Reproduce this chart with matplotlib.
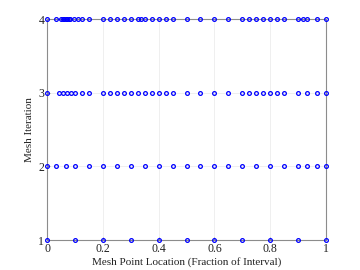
import matplotlib
matplotlib.use("Agg")
import matplotlib.pyplot as plt

# mesh points per iteration (fraction of interval)
mesh_1 = [0.0, 0.1, 0.2, 0.3, 0.4, 0.5, 0.6, 0.7, 0.8, 0.9, 1.0]
mesh_2 = [0.0, 0.0333, 0.0667, 0.1, 0.15, 0.2, 0.25, 0.3, 0.35, 0.4, 0.45,
          0.5, 0.55, 0.6, 0.65, 0.7, 0.75, 0.8, 0.85, 0.9, 0.9333, 0.9667,
          1.0]
mesh_3 = [0.0, 0.0425, 0.0575, 0.0717, 0.0858, 0.1, 0.125, 0.15, 0.2,
          0.225, 0.25, 0.275, 0.3, 0.325, 0.35, 0.375, 0.4, 0.425, 0.45,
          0.5, 0.55, 0.6, 0.65, 0.7, 0.725, 0.75, 0.775, 0.8, 0.825, 0.85,
          0.9, 0.9333, 0.9667, 1.0]
mesh_4 = [0.0, 0.0333, 0.05, 0.0556, 0.0611, 0.0667, 0.0722, 0.0778,
          0.0833, 0.0958, 0.1104, 0.125, 0.15, 0.2, 0.225, 0.25, 0.275,
          0.3, 0.325, 0.3375, 0.35, 0.375, 0.4, 0.425, 0.45, 0.5, 0.55,
          0.6, 0.65, 0.7, 0.725, 0.75, 0.775, 0.8, 0.825, 0.85, 0.9,
          0.9167, 0.9333, 0.9667, 1.0]
meshes = [mesh_1, mesh_2, mesh_3, mesh_4]
iterations = [1, 2, 3, 4]
x_ticks = [0, 0.2, 0.4, 0.6, 0.8, 1]
x_tick_labels = ["0", "0.2", "0.4", "0.6", "0.8", "1"]

plt.rcParams['font.family'] = ['Liberation Serif', 'DejaVu Serif']

fig = plt.figure(figsize=(3.6, 2.7), dpi=100)
ax = fig.add_axes([0.1306, 0.1111, 0.775, 0.8185])

for it, pts in zip(iterations, meshes):
    ax.plot(pts, [it] * len(pts), linestyle='none', marker='o',
            markersize=2.7, markerfacecolor='none', markeredgecolor='#0000ff',
            markeredgewidth=0.9, clip_on=False, zorder=3)

ax.set_xlim(0, 1)
ax.set_ylim(1, 4)
ax.set_xticks(x_ticks)
ax.set_xticklabels(x_tick_labels)
ax.set_yticks(iterations)
ax.grid(True, color='#ececec', linewidth=0.6)
ax.set_axisbelow(True)
for s in ax.spines.values():
    s.set_color('#8c8c8c')
    s.set_linewidth(0.8)
ax.tick_params(direction='in', length=2.5, width=0.6, colors='#8c8c8c',
               labelcolor='#222222', labelsize=8.5, pad=2)
ax.set_xlabel('Mesh Point Location (Fraction of Interval)', fontsize=8,
              color='#222222', labelpad=1.5)
ax.set_ylabel('Mesh Iteration', fontsize=8, color='#222222', labelpad=3)

fig.savefig('out.png', dpi=100)
